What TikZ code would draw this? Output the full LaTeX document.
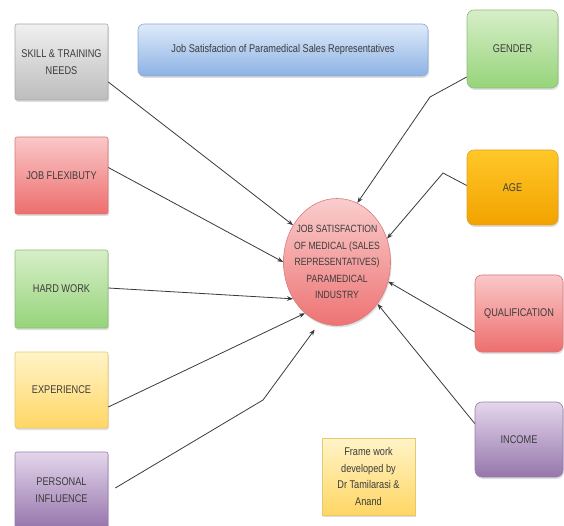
\documentclass[tikz,border=0pt]{standalone}
\usepackage{fontspec}
\setmainfont{Liberation Sans}[FakeStretch=0.82]
\usetikzlibrary{shapes.geometric,shadows,arrows.meta,calc}
\definecolor{txt}{HTML}{3C3C3C}
\definecolor{ln}{HTML}{3A3A3A}
\definecolor{grayT}{HTML}{F0F0F0}\definecolor{grayB}{HTML}{BDBDBD}\definecolor{grayD}{HTML}{A8A8A8}
\definecolor{redT}{HTML}{FAC8C8}\definecolor{redB}{HTML}{EE6E6E}\definecolor{redD}{HTML}{D77878}
\definecolor{greenT}{HTML}{D7EEC8}\definecolor{greenB}{HTML}{96D47A}\definecolor{greenD}{HTML}{8CBE78}
\definecolor{yelT}{HTML}{FFF4C8}\definecolor{yelB}{HTML}{FFD664}\definecolor{yelD}{HTML}{E6C86E}
\definecolor{purT}{HTML}{E4D6EC}\definecolor{purB}{HTML}{9676AC}\definecolor{purD}{HTML}{967DAA}
\definecolor{orT}{HTML}{FFC828}\definecolor{orB}{HTML}{F2A200}\definecolor{orD}{HTML}{E1A028}
\definecolor{bluT}{HTML}{DEEAFA}\definecolor{bluB}{HTML}{8CB2E4}\definecolor{bluD}{HTML}{8CAAD2}
\definecolor{cirT}{HTML}{FACDCD}\definecolor{cirB}{HTML}{EE7373}\definecolor{cirD}{HTML}{D77D7D}
\begin{document}
\begin{tikzpicture}[x=1pt,y=-1pt,
  every node/.style={font=\fontsize{11.2}{16.5}\selectfont, text=txt, align=center, inner sep=1pt},
  box/.style={draw=#1, line width=0.6pt, drop shadow={opacity=0.25, shadow xshift=1pt, shadow yshift=-2pt}},
  lbox/.style={box=#1, rounded corners=2pt, minimum width=93pt},
  rbox/.style={box=#1, rounded corners=7pt},
  grayf/.style={top color=grayT, bottom color=grayB},
  redf/.style={top color=redT, bottom color=redB},
  greenf/.style={top color=greenT, bottom color=greenB},
  yellowf/.style={top color=yelT, bottom color=yelB},
  purplef/.style={top color=purT, bottom color=purB},
  orangef/.style={top color=orT, bottom color=orB},
  bluef/.style={top color=bluT, bottom color=bluB},
  conn/.style={draw=ln, line width=0.8pt, -{Stealth[length=6pt,width=4.5pt]}}
]
\useasboundingbox (0,0) rectangle (564,526);

% left column
\node[lbox=grayD, grayf, minimum height=76pt] (skill) at (61.5,62) {SKILL \& TRAINING\\NEEDS};
\node[lbox=redD, redf, minimum height=77pt] (flex) at (61.5,175.5) {JOB FLEXIBUTY};
\node[lbox=greenD, greenf, minimum height=78pt] (hard) at (61.5,289) {HARD WORK};
\node[lbox=yelD, yellowf, minimum height=76pt] (exp) at (61.5,390) {EXPERIENCE};
\node[lbox=purD, purplef, minimum height=76pt] (pers) at (61.5,490) {PERSONAL\\INFLUENCE};

% title
\node[box=bluD, bluef, rounded corners=6pt, minimum width=290pt, minimum height=52pt] (title) at (283,50) {Job Satisfaction of Paramedical Sales Representatives};

% right column
\node[rbox=greenD, greenf, minimum width=91pt, minimum height=78pt] (gender) at (512.5,49) {GENDER};
\node[rbox=orD, orangef, minimum width=91pt, minimum height=75pt] (age) at (512.5,187.5) {AGE};
\node[rbox=redD, redf, minimum width=88pt, minimum height=77pt] (qual) at (519,313.5) {QUALIFICATION};
\node[rbox=purD, purplef, minimum width=88pt, minimum height=75pt] (income) at (519,439.5) {INCOME};

% footnote
\node[box=yelD, yellowf, minimum width=93pt, minimum height=77pt] (note) at (368.5,476.5) {Frame work\\developed by\\Dr Tamilarasi \&\\Anand};

% centre
\node[ellipse, box=cirD, top color=cirT, bottom color=cirB, minimum width=107pt, minimum height=127pt, inner xsep=-9pt, inner ysep=0pt, font=\fontsize{10.5}{16.5}\selectfont] (c) at (337,262) {JOB SATISFACTION\\OF MEDICAL (SALES\\REPRESENTATIVES)\\PARAMEDICAL\\INDUSTRY};

% connectors
\draw[conn] ([yshift=-20pt]skill.east) -- (c.140);
\draw[conn] ([yshift=8pt]flex.east) -- (c.180);
\draw[conn] ([yshift=1pt]hard.east) -- (c.220);
\draw[conn] ([yshift=-17pt]exp.east) -- (c.238);
\draw[conn] ([xshift=7pt,yshift=2pt]pers.east) -- (263,400) -- ([xshift=-3pt,yshift=-8pt]c.252);
\draw[conn] ([yshift=-28pt]gender.west) -- (430,97) -- (c.71);
\draw[conn] ([yshift=2pt]age.west) -- (443,173) -- (c.25);
\draw[conn] ([yshift=-18.5pt]qual.west) -- (c.339);
\draw[conn] ([yshift=16pt]income.west) -- (c.314);
\end{tikzpicture}
\end{document}
